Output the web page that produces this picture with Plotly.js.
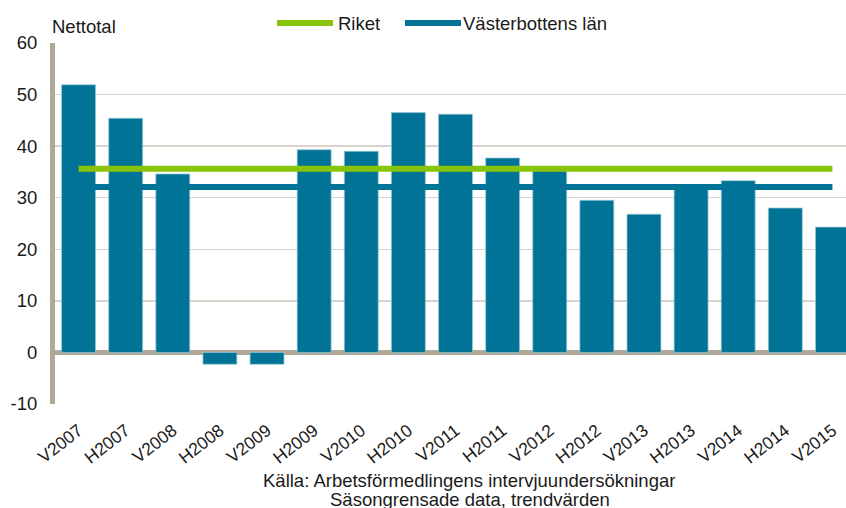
<!DOCTYPE html>
<html>
<head>
<meta charset="utf-8">
<script src="https://cdn.plot.ly/plotly-3.0.1.min.js"></script>
<style>
html,body{margin:0;padding:0;overflow:hidden;background:#fff;}
#chart{width:856px;height:508px;}
</style>
</head>
<body>
<div id="chart"></div>
<script>
// ---- data ----
const categories = ["V2007","H2007","V2008","H2008","V2009","H2009","V2010","H2010","V2011","H2011","V2012","H2012","V2013","H2013","V2014","H2014","V2015"];
const barValues = [51.9,45.4,34.6,-2.3,-2.3,39.3,39.0,46.5,46.2,37.7,35.2,29.5,26.8,32.3,33.3,28.0,24.3];
const riket = [35.6,35.6,35.6,35.6,35.6,35.6,35.6,35.6,35.6,35.6,35.6,35.6,35.6,35.6,35.6,35.6,35.6];
const vasterbotten = [32.1,32.1,32.1,32.1,32.1,32.1,32.1,32.1,32.1,32.1,32.1,32.1,32.1,32.1,32.1,32.1,32.1];
const yTickVals = [-10,0,10,20,30,40,50,60];
const yTickText = ["-10","0","10","20","30","40","50","60"];
const seriesNames = ["Riket","Västerbottens län"];
const yTitle = "Nettotal";
const footer1 = "Källa: Arbetsförmedlingens intervjuundersökningar";
const footer2 = "Säsongrensade data, trendvärden";

// ---- layout geometry ----
const W = 856, H = 508, L = 55, R = 0, T = 43, B = 104;
const PW = W - L - R, PH = H - T - B;
const px = x => (x - L) / PW;
const py = y => (H - B - y) / PH;

const FONT = "Liberation Sans, Arial, sans-serif";
const FS = 18.5;
const BLUE = "#007396";
const GREEN = "#88C40A";
const AXIS = "#B2A898";
const GRID = "#D9D3CB";
const TXT = "#1a1a1a";

const traces = [
  {type:"bar", x:categories, y:barValues, marker:{color:BLUE, line:{color:"rgba(150,200,215,0.9)", width:0.8}}, hoverinfo:"x+y", showlegend:false},
  {type:"scatter", mode:"lines", x:categories, y:vasterbotten, name:seriesNames[1], line:{color:BLUE, width:6}, showlegend:false},
  {type:"scatter", mode:"lines", x:categories, y:riket, name:seriesNames[0], line:{color:GREEN, width:6}, showlegend:false}
];

const layout = {
  width: W, height: H,
  margin:{l:L, r:R, t:T, b:B, pad:0},
  paper_bgcolor:"#fff", plot_bgcolor:"#fff",
  font:{family:FONT, size:FS, color:TXT},
  bargap:0.28,
  showlegend:false,
  xaxis:{type:"category", tickangle:-38, tickfont:{family:FONT, size:17.5, color:TXT}, showgrid:false, showline:false, ticks:"", zeroline:false, ticklabelstandoff:12, fixedrange:true},
  yaxis:{range:[-10,60], tickmode:"array", tickvals:yTickVals, ticktext:yTickText, tickfont:{family:FONT, size:FS, color:TXT},
         showgrid:true, gridcolor:GRID, gridwidth:1.5, showline:true, linecolor:AXIS, linewidth:5,
         zeroline:true, zerolinecolor:AXIS, zerolinewidth:5, ticks:"", ticklabelstandoff:9, fixedrange:true},
  shapes:[
    {type:"line", xref:"paper", yref:"paper", x0:px(277), x1:px(333), y0:py(23), y1:py(23), line:{color:GREEN, width:6}},
    {type:"line", xref:"paper", yref:"paper", x0:px(405), x1:px(461), y0:py(23), y1:py(23), line:{color:BLUE, width:6}}
  ],
  annotations:[
    {text:seriesNames[0], xref:"paper", yref:"paper", x:px(336), y:py(23), xanchor:"left", yanchor:"middle", showarrow:false, font:{size:FS, color:TXT}},
    {text:seriesNames[1], xref:"paper", yref:"paper", x:px(461), y:py(23), xanchor:"left", yanchor:"middle", showarrow:false, font:{size:FS, color:TXT}},
    {text:yTitle, xref:"paper", yref:"paper", x:px(50), y:py(26), xanchor:"left", yanchor:"middle", showarrow:false, font:{size:FS, color:TXT}},
    {text:footer1, xref:"paper", yref:"paper", x:px(469), y:py(480), xanchor:"center", yanchor:"middle", showarrow:false, font:{size:FS, color:TXT}},
    {text:footer2, xref:"paper", yref:"paper", x:px(470), y:py(499), xanchor:"center", yanchor:"middle", showarrow:false, font:{size:FS, color:TXT}}
  ]
};

Plotly.newPlot("chart", traces, layout, {displayModeBar:false, staticPlot:true});
</script>
</body>
</html>
